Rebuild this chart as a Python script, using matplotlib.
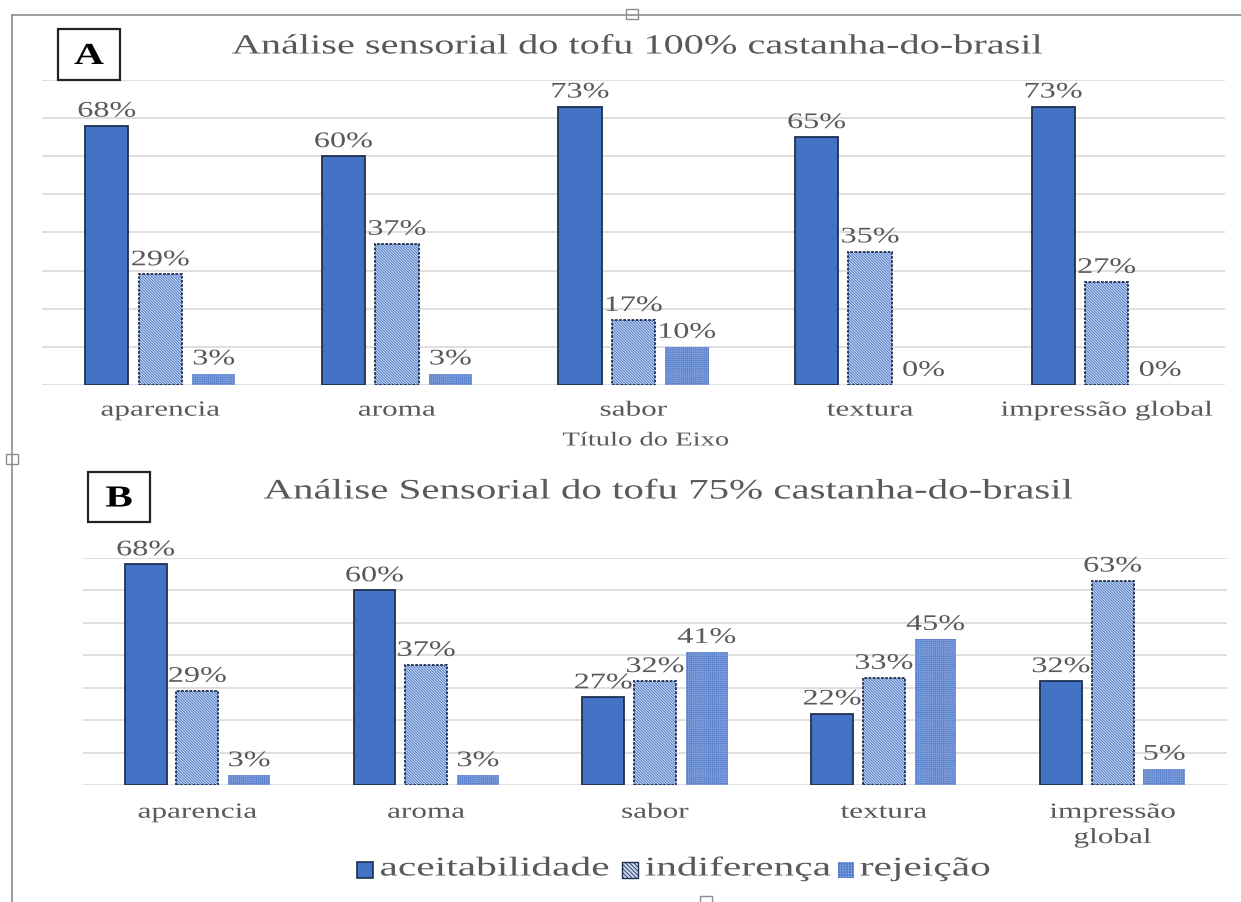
import matplotlib
matplotlib.use("Agg")
import matplotlib.pyplot as plt
import numpy as np
from matplotlib.patches import Rectangle
from matplotlib.lines import Line2D
from matplotlib.patheffects import AbstractPathEffect
from matplotlib.transforms import Affine2D

plt.rcParams['font.family'] = ['Liberation Serif', 'DejaVu Serif']
plt.rcParams['hatch.linewidth'] = 0.6

# sensory evaluation, percentage of tasters
attributes_a = ['aparencia', 'aroma', 'sabor', 'textura', 'impressão global']
aceit_a = [68, 60, 73, 65, 73]
indif_a = [29, 37, 17, 35, 27]
rejei_a = [3, 3, 10, 0, 0]

attributes_b = ['aparencia', 'aroma', 'sabor', 'textura', 'impressão\nglobal']
aceit_b = [68, 60, 27, 22, 32]
indif_b = [29, 37, 32, 33, 63]
rejei_b = [3, 3, 41, 45, 5]

series_names = ['aceitabilidade', 'indiferença', 'rejeição']

BLUE = '#4472C4'
DARK = '#1f2f4f'
LIGHT = '#c9d7f0'
REJ = '#4a74c7'
REJ_HATCH = '#7c9bd9'
GRAY_TXT = '#595959'
GRID = '#d9d9d9'
SX = 1.45  # horizontal widening of the lettering


class StretchX(AbstractPathEffect):
    """Draw text paths widened horizontally around their centre or left edge."""

    def __init__(self, sx=SX, anchor='center'):
        super().__init__()
        self.sx = sx
        self.anchor = anchor

    def draw_path(self, renderer, gc, tpath, affine, rgbFace=None):
        bb = tpath.get_extents(affine)
        x0 = bb.x0 if self.anchor == 'left' else 0.5 * (bb.x0 + bb.x1)
        t = affine + Affine2D().translate(-x0, 0).scale(self.sx, 1).translate(x0, 0)
        renderer.draw_path(gc, tpath, t, rgbFace)


W, H = 1241, 902
fig = plt.figure(figsize=(W / 100, H / 100), dpi=100)


def px_axes(x0, y0, x1, y1):
    return fig.add_axes([x0 / W, 1 - y1 / H, (x1 - x0) / W, (y1 - y0) / H])


def ftext(x, y, s, anchor='center', sx=SX, **kw):
    ha = 'left' if anchor == 'left' else 'center'
    return fig.text(x / W, 1 - y / H, s, ha=ha, va='center',
                    path_effects=[StretchX(sx, anchor)], **kw)


def draw_panel(ax, cats, aceit, indif, rejei, ymax, pad):
    x = np.arange(len(cats))
    bw, off = 0.183, 0.226
    ax.bar(x - off, aceit, bw, color=BLUE, edgecolor=DARK, linewidth=1.3, zorder=3)
    ax.bar(x, indif, bw, color=LIGHT, edgecolor=BLUE, hatch='\\' * 12,
           linewidth=0, zorder=3)
    ax.bar(x, indif, bw, fill=False, edgecolor=DARK, linewidth=1.3,
           linestyle=(0, (1.5, 0.8)), zorder=4)
    ax.bar(x + off, rejei, bw, color=REJ, edgecolor=REJ_HATCH,
           hatch='+' * 8, linewidth=0, zorder=3)
    for xs, vals in ((x - off, aceit), (x, indif), (x + off, rejei)):
        for xi, v in zip(xs, vals):
            ax.annotate(f'{v}%', (xi, v), xytext=(0, 3), textcoords='offset points',
                        ha='center', va='bottom', fontsize=16, color=GRAY_TXT,
                        path_effects=[StretchX()])
    ax.set_xlim(-0.5, len(cats) - 0.5)
    ax.set_ylim(0, ymax)
    ax.set_yticks(np.arange(0, ymax + 1, 10))
    ax.yaxis.grid(True, color=GRID, linewidth=1.2)
    ax.set_axisbelow(True)
    ax.tick_params(axis='y', left=False, labelleft=False)
    ax.tick_params(axis='x', length=0, pad=pad, labelsize=15.5, labelcolor=GRAY_TXT)
    ax.set_xticks(x)
    ax.set_xticklabels(cats, linespacing=1.45)
    for lab in ax.get_xticklabels():
        lab.set_path_effects([StretchX()])
    for s in ax.spines.values():
        s.set_visible(False)
    ax.set_facecolor('none')


ax_a = px_axes(42, 80, 1225, 385)
draw_panel(ax_a, attributes_a, aceit_a, indif_a, rejei_a, 80, pad=12)
ax_b = px_axes(83, 558, 1227, 785)
draw_panel(ax_b, attributes_b, aceit_b, indif_b, rejei_b, 70, pad=13.5)

# titles, axis title and panel letters
ftext(637, 47, 'Análise sensorial do tofu 100% castanha-do-brasil',
      fontsize=20, color=GRAY_TXT)
ftext(669, 492, 'Análise Sensorial do tofu 75% castanha-do-brasil',
      fontsize=20.3, color=GRAY_TXT)
ftext(646, 441, 'Título do Eixo', fontsize=14.2, color=GRAY_TXT)

for (bx0, by0, bx1, by1, letter) in ((58, 29, 120, 80, 'A'), (88, 472, 150, 522, 'B')):
    fig.patches.append(Rectangle((bx0 / W, 1 - by1 / H), (bx1 - bx0) / W, (by1 - by0) / H,
                                 transform=fig.transFigure, fill=False,
                                 edgecolor='#222222', linewidth=1.6))
    ftext((bx0 + bx1) / 2, (by0 + by1) / 2 + 2, letter, fontsize=22,
          fontweight='bold', color='black', sx=1.35)

# legend, laid out by hand so the widened labels keep their spacing
legend_items = [
    (357, dict(facecolor=BLUE, edgecolor=DARK, linewidth=1.2), 380),
    (622, dict(facecolor=LIGHT, edgecolor=DARK, hatch='\\' * 8, linewidth=1.0), 645),
    (838, dict(facecolor=REJ, edgecolor=REJ_HATCH, hatch='+' * 6, linewidth=0), 860),
]
for (hx, style, tx), name in zip(legend_items, series_names):
    fig.patches.append(Rectangle((hx / W, 1 - 878 / H), 16 / W, 16 / H,
                                 transform=fig.transFigure, **style))
    ftext(tx, 869, name, anchor='left', fontsize=19.5, color=GRAY_TXT, sx=1.53)

# outer frame of the embedded chart
fc = '#8c8c8c'
fig.add_artist(Line2D([12 / W, 1], [1 - 15 / H, 1 - 15 / H], color=fc, lw=1.2))
fig.add_artist(Line2D([12 / W, 12 / W], [1 - 15 / H, 0], color=fc, lw=1.2))
for (hx, hy, hw, hh) in ((626, 9, 12, 10), (6, 454, 12, 10), (700, 896, 12, 8)):
    fig.patches.append(Rectangle((hx / W, 1 - (hy + hh) / H), hw / W, hh / H,
                                 transform=fig.transFigure, facecolor='white',
                                 edgecolor=fc, linewidth=1.0))

fig.savefig('out.png', dpi=100)
